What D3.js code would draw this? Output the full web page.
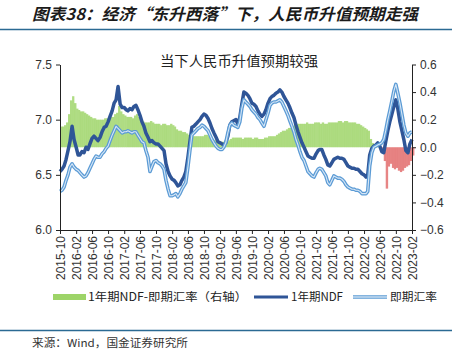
<!DOCTYPE html>
<html><head><meta charset="utf-8">
<script src="https://cdn.jsdelivr.net/npm/d3@7"></script>
<style>
html,body{margin:0;padding:0;background:#fff;}
svg{display:block;}
</style></head>
<body>
<svg id="c" width="458" height="355"></svg>
<script>
// ---- data (semi-monthly) ----
const dates = [
"2015-10-01","2015-10-16","2015-11-01","2015-11-16","2015-12-01","2015-12-16",
"2016-01-01","2016-01-16","2016-02-01","2016-02-16","2016-03-01","2016-03-16","2016-04-01","2016-04-16","2016-05-01","2016-05-16","2016-06-01","2016-06-16",
"2016-07-01","2016-07-16","2016-08-01","2016-08-16","2016-09-01","2016-09-16","2016-10-01","2016-10-16","2016-11-01","2016-11-16","2016-12-01","2016-12-16",
"2017-01-01","2017-01-16","2017-02-01","2017-02-16","2017-03-01","2017-03-16","2017-04-01","2017-04-16","2017-05-01","2017-05-16","2017-06-01","2017-06-16",
"2017-07-01","2017-07-16","2017-08-01","2017-08-16","2017-09-01","2017-09-16","2017-10-01","2017-10-16","2017-11-01","2017-11-16","2017-12-01","2017-12-16",
"2018-01-01","2018-01-16","2018-02-01","2018-02-16","2018-03-01","2018-03-16","2018-04-01","2018-04-16","2018-05-01","2018-05-16","2018-06-01","2018-06-16",
"2018-07-01","2018-07-16","2018-08-01","2018-08-16","2018-09-01","2018-09-16","2018-10-01","2018-10-16","2018-11-01","2018-11-16","2018-12-01","2018-12-16",
"2019-01-01","2019-01-16","2019-02-01","2019-02-16","2019-03-01","2019-03-16","2019-04-01","2019-04-16","2019-05-01","2019-05-16","2019-06-01","2019-06-16",
"2019-07-01","2019-07-16","2019-08-01","2019-08-16","2019-09-01","2019-09-16","2019-10-01","2019-10-16","2019-11-01","2019-11-16","2019-12-01","2019-12-16",
"2020-01-01","2020-01-16","2020-02-01","2020-02-16","2020-03-01","2020-03-16","2020-04-01","2020-04-16","2020-05-01","2020-05-16","2020-06-01","2020-06-16",
"2020-07-01","2020-07-16","2020-08-01","2020-08-16","2020-09-01","2020-09-16","2020-10-01","2020-10-16","2020-11-01","2020-11-16","2020-12-01","2020-12-16",
"2021-01-01","2021-01-16","2021-02-01","2021-02-16","2021-03-01","2021-03-16","2021-04-01","2021-04-16","2021-05-01","2021-05-16","2021-06-01","2021-06-16",
"2021-07-01","2021-07-16","2021-08-01","2021-08-16","2021-09-01","2021-09-16","2021-10-01","2021-10-16","2021-11-01","2021-11-16","2021-12-01","2021-12-16",
"2022-01-01","2022-01-16","2022-02-01","2022-02-16","2022-03-01","2022-03-16","2022-04-01","2022-04-16","2022-05-01","2022-05-16","2022-06-01","2022-06-16",
"2022-07-01","2022-07-16","2022-08-01","2022-08-16","2022-09-01","2022-09-16","2022-10-01","2022-10-16","2022-11-01","2022-11-16","2022-12-01","2022-12-16",
"2023-01-01","2023-01-16","2023-02-01"
];
// 1年期NDF
const ndf = [
6.53,6.55,6.58,6.64,6.72,6.80,6.94,6.82,6.75,6.68,6.68,6.71,
6.70,6.75,6.73,6.78,6.83,6.85,6.83,6.81,6.84,6.89,6.93,6.94,
6.98,7.03,7.08,7.15,7.18,7.30,7.14,7.11,7.11,7.09,7.08,7.10,
7.09,7.12,7.13,7.09,7.04,6.98,6.94,6.88,6.84,6.80,6.81,6.79,
6.78,6.78,6.76,6.74,6.72,6.60,6.53,6.49,6.46,6.45,6.43,6.40,
6.41,6.45,6.48,6.53,6.66,6.80,6.93,6.94,6.96,6.98,7.00,7.03,
7.05,7.04,7.01,6.97,6.92,6.88,6.84,6.80,6.79,6.78,6.77,6.79,
6.85,6.95,6.98,6.99,7.00,6.96,7.02,7.14,7.25,7.24,7.22,7.19,
7.15,7.14,7.12,7.08,7.05,7.03,7.05,7.09,7.15,7.19,7.21,7.22,
7.24,7.25,7.27,7.25,7.21,7.18,7.15,7.11,7.06,7.02,6.95,6.89,
6.84,6.79,6.75,6.71,6.67,6.66,6.65,6.65,6.69,6.72,6.73,6.73,
6.68,6.64,6.59,6.58,6.61,6.64,6.65,6.66,6.65,6.65,6.64,6.61,
6.58,6.57,6.56,6.56,6.55,6.55,6.53,6.51,6.50,6.48,6.50,6.68,
6.74,6.76,6.77,6.79,6.76,6.71,6.70,6.80,6.90,6.98,7.05,7.12,
7.18,7.10,6.98,6.90,6.82,6.72,6.70,6.78,6.82
];
// 即期汇率
const spot = [
6.35,6.36,6.39,6.45,6.50,6.57,6.60,6.57,6.55,6.54,6.52,6.50,
6.48,6.49,6.52,6.56,6.60,6.64,6.67,6.66,6.66,6.69,6.71,6.74,
6.76,6.81,6.86,6.90,6.94,6.92,6.90,6.88,6.89,6.89,6.90,6.89,
6.88,6.89,6.89,6.86,6.83,6.80,6.79,6.72,6.66,6.53,6.58,6.62,
6.63,6.61,6.60,6.58,6.55,6.45,6.37,6.31,6.31,6.32,6.33,6.30,
6.33,6.37,6.40,6.43,6.57,6.72,6.86,6.88,6.90,6.92,6.93,6.95,
6.94,6.92,6.90,6.86,6.82,6.79,6.76,6.74,6.73,6.73,6.75,6.79,
6.88,6.95,6.97,6.95,6.94,6.93,6.98,7.10,7.18,7.16,7.14,7.12,
7.09,7.07,7.05,7.02,7.00,6.97,6.94,7.00,7.06,7.13,7.15,7.16,
7.16,7.17,7.18,7.16,7.12,7.08,7.04,6.99,6.94,6.89,6.82,6.77,
6.71,6.66,6.63,6.58,6.53,6.51,6.49,6.48,6.52,6.55,6.56,6.55,
6.52,6.49,6.43,6.41,6.45,6.49,6.48,6.47,6.47,6.46,6.44,6.41,
6.39,6.38,6.37,6.37,6.36,6.36,6.35,6.33,6.33,6.33,6.35,6.58,
6.70,6.75,6.76,6.77,6.78,6.79,6.82,6.90,7.00,7.08,7.17,7.26,
7.32,7.24,7.15,7.05,6.95,6.88,6.85,6.88,6.89
];
// 1年期NDF-即期汇率（右轴）
const spread = [
0.15,0.15,0.16,0.18,0.24,0.34,0.37,0.32,0.28,0.27,0.26,0.26,
0.25,0.24,0.23,0.22,0.21,0.21,0.20,0.20,0.20,0.20,0.21,0.21,
0.21,0.22,0.22,0.24,0.25,0.30,0.26,0.24,0.23,0.22,0.22,0.22,
0.21,0.23,0.24,0.22,0.20,0.19,0.18,0.18,0.18,0.19,0.18,0.17,
0.17,0.17,0.16,0.17,0.17,0.16,0.16,0.17,0.16,0.15,0.13,0.12,
0.12,0.11,0.11,0.10,0.09,0.08,0.08,0.08,0.08,0.08,0.08,0.08,
0.09,0.09,0.08,0.07,0.06,0.05,0.05,0.04,0.04,0.04,0.03,0.04,
0.05,0.06,0.07,0.07,0.07,0.07,0.07,0.06,0.07,0.07,0.07,0.07,
0.06,0.07,0.07,0.06,0.06,0.06,0.07,0.07,0.08,0.08,0.08,0.08,
0.09,0.10,0.11,0.12,0.12,0.13,0.14,0.14,0.15,0.16,0.17,0.17,
0.17,0.17,0.17,0.18,0.17,0.17,0.17,0.18,0.18,0.18,0.17,0.18,
0.17,0.17,0.18,0.18,0.18,0.18,0.18,0.19,0.19,0.18,0.19,0.19,
0.18,0.18,0.18,0.18,0.17,0.17,0.16,0.15,0.14,0.13,0.12,0.06,
0.03,0.02,0.01,0.01,0.00,-0.04,-0.10,-0.30,-0.14,-0.12,-0.15,-0.16,
-0.15,-0.17,-0.18,-0.17,-0.15,-0.14,-0.13,-0.10,-0.06
];
const xTickLabels = ["2015-10","2016-02","2016-06","2016-10","2017-02","2017-06","2017-10","2018-02","2018-06","2018-10","2019-02","2019-06","2019-10","2020-02","2020-06","2020-10","2021-02","2021-06","2021-10","2022-02","2022-06","2022-10","2023-02"];
const leftTicks = [6.0, 6.5, 7.0, 7.5];
const rightTicks = [-0.6, -0.4, -0.2, 0.0, 0.2, 0.4, 0.6];
const titleText = "图表38：经济“东升西落”下，人民币升值预期走强";
const subtitleText = "当下人民币升值预期较强";
const legendLabels = ["1年期NDF-即期汇率（右轴）", "1年期NDF", "即期汇率"];
const sourceText = "来源：Wind，国金证券研究所";

// ---- layout ----
const svg = d3.select("#c");
const L = 60, R = 412, T = 64.5, B = 230;
const parse = d3.timeParse("%Y-%m-%d");
const parseM = d3.timeParse("%Y-%m");
const D = dates.map(parse);
const x = d3.scaleTime().domain([parseM("2015-10"), parseM("2023-02")]).range([L, R]);
const yL = d3.scaleLinear().domain([6.0, 7.5]).range([B, T]);
const yR = d3.scaleLinear().domain([-0.6, 0.6]).range([B, T]);

const CJK = "'Noto Sans CJK SC','Noto Sans',sans-serif";
const LAT = "'Liberation Sans','DejaVu Sans',sans-serif";

// title
svg.append("text").attr("x", 32).attr("y", 20)
  .attr("font-family", CJK).attr("font-size", 16).attr("font-weight", 600)
  .attr("font-style", "italic").attr("fill", "#1b1b1b")
  .attr("textLength", 386).attr("lengthAdjust", "spacingAndGlyphs")
  .text(titleText);
svg.append("line").attr("x1", 0).attr("x2", 452).attr("y1", 29.5).attr("y2", 29.5)
  .attr("stroke", "#2b6a93").attr("stroke-width", 1.5);

// subtitle
svg.append("text").attr("x", 239).attr("y", 66).attr("text-anchor", "middle")
  .attr("font-family", CJK).attr("font-size", 13.5).attr("fill", "#222")
  .attr("textLength", 158).attr("lengthAdjust", "spacingAndGlyphs")
  .text(subtitleText);

// bars
const bw = i => (i < D.length - 1 ? x(D[i + 1]) - x(D[i]) : x(D[i]) - x(D[i - 1])) + 0.3;
svg.append("g").selectAll("rect").data(spread).join("rect")
  .attr("x", (d, i) => x(D[i]))
  .attr("width", (d, i) => bw(i))
  .attr("y", d => Math.min(yR(d), yR(0)))
  .attr("height", d => Math.abs(yR(d) - yR(0)))
  .attr("fill", d => d >= 0 ? "#9dd468" : "#e26a6a")
  .attr("fill-opacity", 0.82);

// lines
const lineL = d3.line().x((d, i) => x(D[i])).y(d => yL(d));
svg.append("path").datum(ndf).attr("d", lineL).attr("fill", "none")
  .attr("stroke", "#2f5597").attr("stroke-width", 3.5).attr("stroke-linejoin", "round");
svg.append("path").datum(spot).attr("d", lineL).attr("fill", "none")
  .attr("stroke", "#5b9bd5").attr("stroke-width", 3.6).attr("stroke-linejoin", "round");
svg.append("path").datum(spot).attr("d", lineL).attr("fill", "none")
  .attr("stroke", "#d6e6f6").attr("stroke-width", 1.1).attr("stroke-linejoin", "round");

// axes
function styleAxis(g) {
  g.selectAll("path,line").attr("stroke", "#222").attr("stroke-width", 1);
  g.selectAll("text").attr("font-family", LAT).attr("font-size", 12).attr("fill", "#333");
}
const gl = svg.append("g").attr("transform", `translate(${L},0)`)
  .call(d3.axisLeft(yL).tickValues(leftTicks).tickFormat(d3.format(".1f")).tickSize(4).tickSizeOuter(0).tickPadding(4));
styleAxis(gl);
const gr = svg.append("g").attr("transform", `translate(${R},0)`)
  .call(d3.axisRight(yR).tickValues(rightTicks).tickFormat(d => d3.format(".1f")(d).replace("-", "−")).tickSize(4).tickSizeOuter(0).tickPadding(4));
styleAxis(gr);
const gb = svg.append("g").attr("transform", `translate(0,${B})`)
  .call(d3.axisBottom(x).tickValues(xTickLabels.map(parseM)).tickFormat(d3.timeFormat("%Y-%m")).tickSize(4).tickSizeOuter(0));
styleAxis(gb);
gb.selectAll("text").attr("transform", "rotate(-90)").attr("text-anchor", "end")
  .attr("x", -6).attr("y", 0).attr("dy", "0.35em");

// legend
const ly = 297;
const lg = svg.append("g");
lg.append("rect").attr("x", 53).attr("y", ly - 3).attr("width", 33).attr("height", 6).attr("fill", "#9dd468");
lg.append("text").attr("x", 88).attr("y", ly + 4).text(legendLabels[0])
  .attr("textLength", 159).attr("lengthAdjust", "spacingAndGlyphs");
lg.append("line").attr("x1", 254).attr("x2", 288).attr("y1", ly).attr("y2", ly).attr("stroke", "#2f5597").attr("stroke-width", 3);
lg.append("text").attr("x", 291).attr("y", ly + 4).text(legendLabels[1]);
lg.append("line").attr("x1", 353).attr("x2", 387).attr("y1", ly).attr("y2", ly).attr("stroke", "#5b9bd5").attr("stroke-width", 3.4);
lg.append("line").attr("x1", 353).attr("x2", 387).attr("y1", ly).attr("y2", ly).attr("stroke", "#fff").attr("stroke-width", 1.2);
lg.append("text").attr("x", 390).attr("y", ly + 4).text(legendLabels[2])
  .attr("textLength", 47).attr("lengthAdjust", "spacingAndGlyphs");
lg.selectAll("text").attr("font-family", CJK).attr("font-size", 11.5).attr("fill", "#222");

// source
svg.append("line").attr("x1", 0).attr("x2", 452).attr("y1", 330.5).attr("y2", 330.5)
  .attr("stroke", "#2b6a93").attr("stroke-width", 1.5);
svg.append("text").attr("x", 32).attr("y", 347).attr("font-family", CJK).attr("font-size", 11)
  .attr("fill", "#333").attr("textLength", 156).attr("lengthAdjust", "spacingAndGlyphs").text(sourceText);
</script>
</body></html>
